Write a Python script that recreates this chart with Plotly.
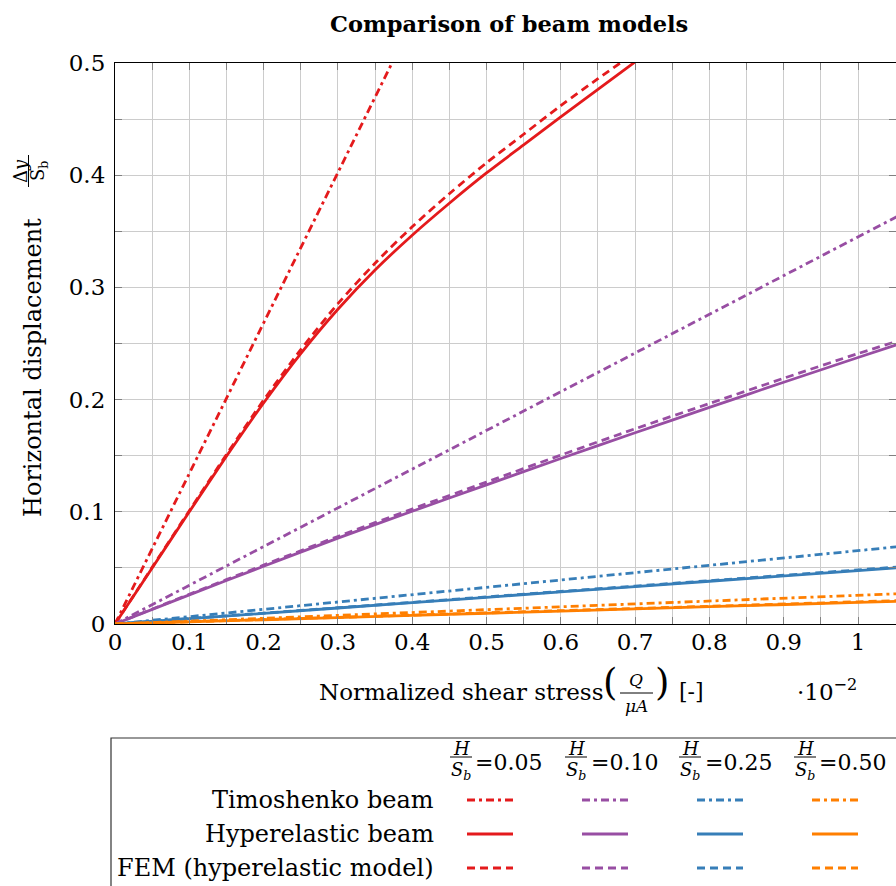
import plotly.graph_objects as go

# ---------------- data ----------------
ratios = ["0.05", "0.10", "0.25", "0.50"]
colors = ["#e41a1c", "#984ea3", "#377eb8", "#ff7f00"]

# H/Sb = 0.05 (red)
x_red_tim = [0, 0.1, 0.2, 0.3, 0.3728]
y_red_tim = [0, 0.1341, 0.2682, 0.4023, 0.5]
x_red_hyp = [0, 0.05, 0.1, 0.15, 0.2, 0.25, 0.3, 0.35, 0.4, 0.45, 0.5, 0.55, 0.6, 0.65, 0.7]
y_red_hyp = [0, 0.05, 0.1, 0.1495, 0.197, 0.241, 0.2805, 0.3155, 0.3465, 0.375, 0.402, 0.427, 0.452, 0.4765, 0.501]
x_red_fem = [0, 0.05, 0.1, 0.15, 0.2, 0.25, 0.3, 0.35, 0.4, 0.45, 0.5, 0.55, 0.6, 0.65, 0.68]
y_red_fem = [0, 0.0505, 0.101, 0.151, 0.1995, 0.2445, 0.2855, 0.3215, 0.354, 0.3835, 0.411, 0.4365, 0.462, 0.486, 0.5]

# H/Sb = 0.10 (purple)
x_pur = [0, 0.1, 0.2, 0.3, 0.4, 0.5, 0.6, 0.7, 0.8, 0.9, 1.0, 1.06]
y_pur_tim = [0, 0.0345, 0.069, 0.1035, 0.138, 0.1725, 0.207, 0.2415, 0.276, 0.3105, 0.345, 0.3657]
y_pur_hyp = [0, 0.026, 0.0515, 0.0765, 0.1005, 0.124, 0.1475, 0.1705, 0.193, 0.2155, 0.2375, 0.2505]
y_pur_fem = [0, 0.0265, 0.0525, 0.078, 0.1025, 0.1265, 0.1505, 0.174, 0.1965, 0.219, 0.241, 0.2535]

# H/Sb = 0.25 (blue)
x_blu = [0, 0.2, 0.4, 0.6, 0.8, 1.0, 1.06]
y_blu_tim = [0, 0.0131, 0.0262, 0.0392, 0.0523, 0.0654, 0.0693]
y_blu_hyp = [0, 0.0095, 0.019, 0.0286, 0.0381, 0.0476, 0.0505]
y_blu_fem = [0, 0.0097, 0.0193, 0.029, 0.0386, 0.0482, 0.0511]

# H/Sb = 0.50 (orange)
x_ora = [0, 0.2, 0.4, 0.6, 0.8, 1.0, 1.06]
y_ora_tim = [0, 0.0051, 0.0102, 0.0154, 0.0205, 0.0256, 0.0271]
y_ora_hyp = [0, 0.0038, 0.0077, 0.0115, 0.0154, 0.0192, 0.0204]
y_ora_fem = [0, 0.004, 0.0079, 0.0119, 0.0158, 0.0198, 0.021]

x_ticks = [0, 0.1, 0.2, 0.3, 0.4, 0.5, 0.6, 0.7, 0.8, 0.9, 1]
y_ticks = [0, 0.1, 0.2, 0.3, 0.4, 0.5]

row_labels = ["Timoshenko beam", "Hyperelastic beam", "FEM (hyperelastic model)"]

# ---------------- styling ----------------
FONT = "DejaVu Serif"
W, H = 896, 886
L, R, T, B = 115, 0, 63, 262
PW, PH = W - L - R, H - T - B
XMAX = PW / 743.0

DASHDOT = "8px,4px,3px,4px"
DASHED = "8px,5px"
LW = 2.8


def px(x):
    return (x - L) / PW


def py(y):
    return (H - B - y) / PH


fig = go.Figure()

series = [
    (x_red_tim, y_red_tim, x_red_hyp, y_red_hyp, x_red_fem, y_red_fem),
    (x_pur, y_pur_tim, x_pur, y_pur_hyp, x_pur, y_pur_fem),
    (x_blu, y_blu_tim, x_blu, y_blu_hyp, x_blu, y_blu_fem),
    (x_ora, y_ora_tim, x_ora, y_ora_hyp, x_ora, y_ora_fem),
]

for (xt, yt, xh, yh, xf, yf), c in zip(series, colors):
    fig.add_trace(go.Scatter(x=xt, y=yt, mode="lines", line=dict(color=c, width=LW, dash=DASHDOT),
                             showlegend=False, hoverinfo="skip"))
    fig.add_trace(go.Scatter(x=xh, y=yh, mode="lines",
                             line=dict(color=c, width=LW, shape="spline", smoothing=0.8),
                             showlegend=False, hoverinfo="skip"))
    fig.add_trace(go.Scatter(x=xf, y=yf, mode="lines",
                             line=dict(color=c, width=LW, dash=DASHED, shape="spline", smoothing=0.8),
                             showlegend=False, hoverinfo="skip"))

# invisible trace to activate top/right tick axes
fig.add_trace(go.Scatter(x=[0], y=[0], xaxis="x2", yaxis="y2", mode="markers",
                         marker=dict(opacity=0), showlegend=False, hoverinfo="skip"))

GRID = "#cccccc"
TICKC = "#808080"
tickfont = dict(family=FONT, size=23, color="black")

fig.update_layout(
    width=W, height=H,
    margin=dict(l=L, r=R, t=T, b=B, pad=0),
    paper_bgcolor="white", plot_bgcolor="white",
    font=dict(family=FONT, color="black"),
    xaxis=dict(range=[0, XMAX], tickvals=x_ticks, ticktext=[("%g" % v) for v in x_ticks],
               showgrid=True, gridcolor=GRID, gridwidth=1,
               ticks="inside", ticklen=7, tickcolor=TICKC, tickwidth=1,
               tickfont=tickfont, ticklabelstandoff=-3,
               showline=True, linecolor="black", linewidth=1.2, zeroline=False,
               minor=dict(dtick=0.05, tick0=0, ticks="inside", ticklen=7, tickcolor=TICKC,
                          showgrid=True, gridcolor=GRID, gridwidth=1)),
    yaxis=dict(range=[0, 0.5], tickvals=y_ticks, ticktext=[("%g" % v) for v in y_ticks],
               showgrid=True, gridcolor=GRID, gridwidth=1,
               ticks="inside", ticklen=7, tickcolor=TICKC, tickwidth=1,
               tickfont=tickfont, ticklabelstandoff=4,
               showline=True, linecolor="black", linewidth=1.2, zeroline=False,
               minor=dict(dtick=0.05, tick0=0, ticks="inside", ticklen=7, tickcolor=TICKC,
                          showgrid=True, gridcolor=GRID, gridwidth=1)),
    xaxis2=dict(range=[0, XMAX], overlaying="x", side="top", anchor="y2",
                dtick=0.05, tick0=0, ticks="inside", ticklen=7, tickcolor=TICKC,
                showticklabels=False, showgrid=False, zeroline=False,
                showline=True, linecolor="black", linewidth=1.2),
    yaxis2=dict(range=[0, 0.5], overlaying="y", side="right", anchor="x2",
                dtick=0.05, tick0=0, ticks="inside", ticklen=7, tickcolor=TICKC,
                showticklabels=False, showgrid=False, zeroline=False, showline=False),
)

ann = []
shapes = []


def text(x, y, s, size, xanchor="center", yanchor="middle", angle=0):
    ann.append(dict(x=px(x), y=py(y), xref="paper", yref="paper", text=s, showarrow=False,
                    xanchor=xanchor, yanchor=yanchor, textangle=angle,
                    font=dict(family=FONT, size=size, color="black")))


def hline(x0, x1, y, color="black", width=1, dash=None):
    ln = dict(color=color, width=width)
    if dash:
        ln["dash"] = dash
    shapes.append(dict(type="line", xref="paper", yref="paper",
                       x0=px(x0), x1=px(x1), y0=py(y), y1=py(y), line=ln))


def vline(x, y0, y1, color="black", width=1):
    shapes.append(dict(type="line", xref="paper", yref="paper",
                       x0=px(x), x1=px(x), y0=py(y0), y1=py(y1), line=dict(color=color, width=width)))


# title
text(509, 24, "<b>Comparison of beam models</b>", 22.5)

# y-axis label
text(33, 368, "Horizontal displacement", 24, angle=-90)
text(20, 171, "Δ<i>y</i>", 18, angle=-90)
text(39, 171, "S<sub>b</sub>", 18, angle=-90)
vline(28.5, 155, 187)

# x-axis label
text(317, 692, "Normalized shear stress", 23, xanchor="left")
text(610, 682, "(", 37)
text(636, 680, "<i>Q</i>", 17)
text(636, 706, "<i>μA</i>", 17)
hline(620, 653, 693)
text(662, 682, ")", 37)
text(677, 692, "[-]", 22, xanchor="left")
text(795, 690, "·10<sup>−2</sup>", 23, xanchor="left")

# legend box
shapes.append(dict(type="rect", xref="paper", yref="paper",
                   x0=px(111), x1=px(910), y0=py(738), y1=py(900),
                   line=dict(color="#333333", width=1.2), fillcolor="rgba(0,0,0,0)"))

frac_x = [461, 576, 690, 805]
eq_x = [473, 589, 703, 817]
for fx, ex, r in zip(frac_x, eq_x, ratios):
    text(fx, 748, "<i>H</i>", 18)
    text(fx, 771, "<i>S<sub>b</sub></i>", 18)
    hline(fx - 11, fx + 11, 757)
    text(ex, 762, "=" + r, 22, xanchor="left")

row_y = [800, 834, 868]
for yy, lab in zip(row_y, row_labels):
    text(436, yy, lab, 24, xanchor="right")

sample_x0 = [467, 582, 697, 812]
for sx, c in zip(sample_x0, colors):
    hline(sx, sx + 46, row_y[0], color=c, width=LW, dash=DASHDOT)
    hline(sx, sx + 46, row_y[1], color=c, width=LW)
    hline(sx, sx + 46, row_y[2], color=c, width=LW, dash=DASHED)

fig.update_layout(annotations=ann, shapes=shapes)
fig.write_html("out.html", config={"displayModeBar": False},
               post_script="document.body.style.margin='0';document.body.style.overflow='hidden';")
